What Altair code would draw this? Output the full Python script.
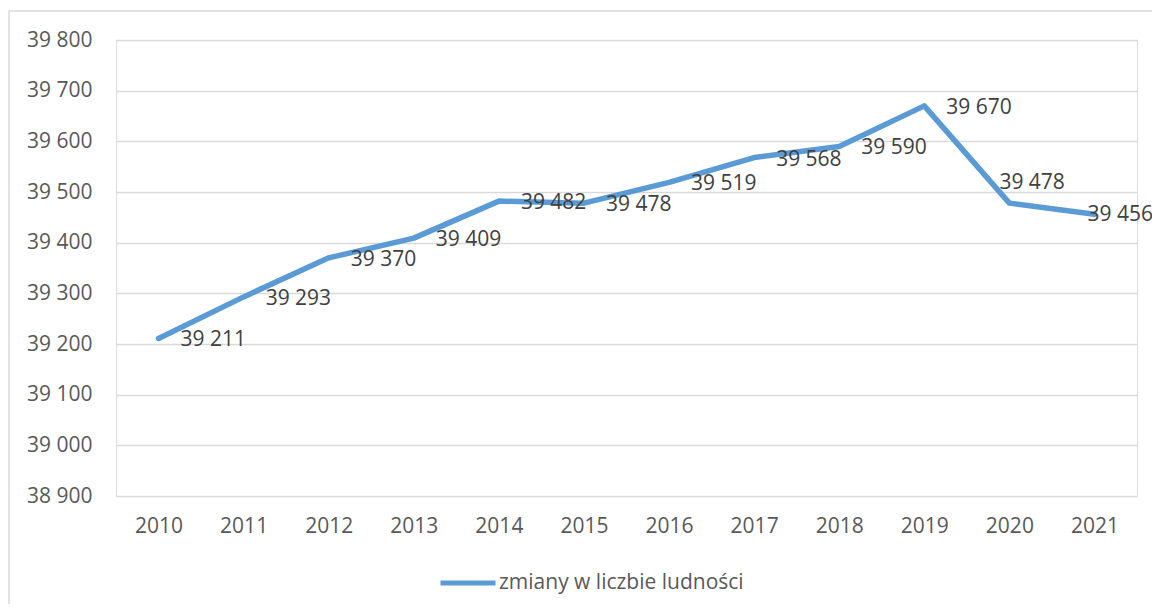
import altair as alt
import pandas as pd

years = ["2010", "2011", "2012", "2013", "2014", "2015", "2016", "2017", "2018", "2019", "2020", "2021"]
values = [39211, 39293, 39370, 39409, 39482, 39478, 39519, 39568, 39590, 39670, 39478, 39456]
series_name = "zmiany w liczbie ludności"
y_ticks = [38900, 39000, 39100, 39200, 39300, 39400, 39500, 39600, 39700, 39800]

df = pd.DataFrame({"rok": years, "v": values, "seria": [series_name] * len(years)})

FONT = "Open Sans"
FS = 21
W, H = 1021, 456

x_enc = alt.X("rok:O", sort=years,
              scale=alt.Scale(type="point", padding=0.5),
              axis=alt.Axis(title=None, labelAngle=0, ticks=False, domain=False, grid=False,
                            labelFont=FONT, labelFontSize=FS, labelColor="#595959", labelPadding=19))
y_enc = alt.Y("v:Q", scale=alt.Scale(domain=[38900, 39800], nice=False, zero=False),
              axis=alt.Axis(title=None, values=y_ticks, ticks=False, domain=False,
                            gridColor="#d9d9d9", gridWidth=1.5,
                            labelFont=FONT, labelFontSize=FS, labelColor="#595959", labelPadding=24,
                            labelExpr="replace(format(datum.value, ','), ',', ' ')"))

base = alt.Chart(df)

border = alt.Chart(alt.Data(values=[{}])).mark_rect(
    fill=None, stroke="#d9d9d9", strokeWidth=1.5
).encode(x=alt.value(-107), x2=alt.value(W + 60), y=alt.value(-29), y2=alt.value(H + 140))

line = base.mark_line(strokeWidth=5.5, strokeJoin="round", strokeCap="round").encode(
    x=x_enc, y=y_enc,
    color=alt.Color("seria:N", scale=alt.Scale(range=["#5B9BD5"]),
                    legend=alt.Legend(title=None, orient="none", legendX=322, legendY=H + 57,
                                      direction="horizontal", labelLimit=0,
                                      symbolType="stroke", symbolSize=3025, symbolStrokeWidth=5,
                                      labelFont=FONT, labelFontSize=FS, labelColor="#595959",
                                      labelOffset=1))
)

lab = base.transform_calculate(lab="replace(format(datum.v, ','), ',', ' ')")
txt_kw = dict(font=FONT, fontSize=FS, color="#404040", align="left", baseline="middle")

labels_main = lab.transform_filter(
    "datum.rok != '2020' && datum.rok != '2021'"
).mark_text(dx=22, dy=2, **txt_kw).encode(x=alt.X("rok:O", sort=years), y="v:Q", text="lab:N")
labels_2020 = lab.transform_filter("datum.rok == '2020'").mark_text(dx=-10, dy=-20, **txt_kw).encode(
    x=alt.X("rok:O", sort=years), y="v:Q", text="lab:N")
labels_2021 = lab.transform_filter("datum.rok == '2021'").mark_text(dx=-7, dy=1, **txt_kw).encode(
    x=alt.X("rok:O", sort=years), y="v:Q", text="lab:N")

chart = alt.layer(border, line, labels_main, labels_2020, labels_2021).properties(
    width=W, height=H,
    autosize=alt.AutoSizeParams(type="none"),
    padding={"left": 108, "top": 32, "right": 15, "bottom": 108},
).configure_view(stroke=None).configure(background="white")

chart.save("out.html", embed_options={"renderer": "svg", "actions": False})
